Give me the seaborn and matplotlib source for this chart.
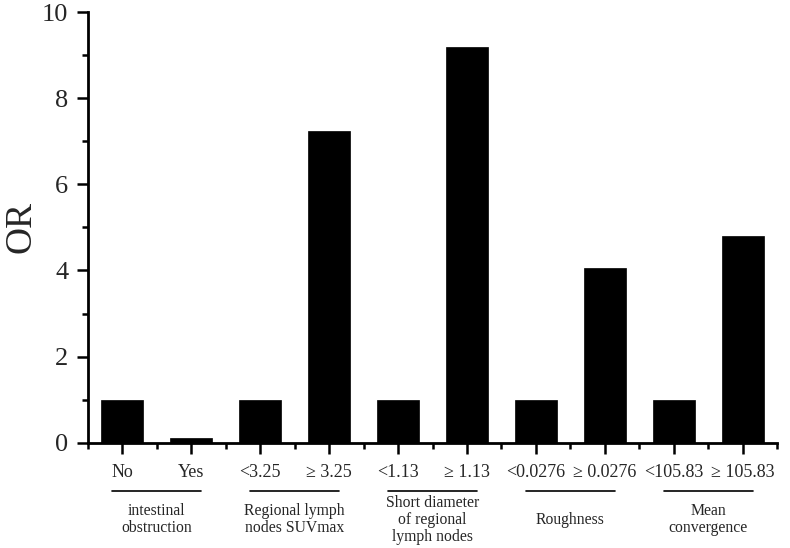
"""Odds ratios by variable group, black bar chart."""

import matplotlib.pyplot as plt
import numpy as np
import pandas as pd
import seaborn as sns

categories = ["No", "Yes", "<3.25", "\u2265 3.25", "<1.13", "\u2265 1.13",
              "<0.0276", "\u2265 0.0276", "<105.83", "\u2265 105.83"]
odds_ratios = [1.0, 0.12, 1.0, 7.25, 1.0, 9.18, 1.0, 4.05, 1.0, 4.81]
groups = ["intestinal\nobstruction", "Regional lymph\nnodes SUVmax",
          "Short diameter\nof regional\nlymph nodes", "Roughness",
          "Mean\nconvergence"]

SERIF = ["Liberation Serif", "DejaVu Serif"]


def main():
    sns.set_style("ticks")
    plt.rcParams["font.family"] = SERIF

    df = pd.DataFrame({"category": categories, "OR": odds_ratios})

    fig = plt.figure(figsize=(7.9, 5.48), dpi=100)
    ax = fig.add_axes([0.111, 0.192, 0.873, 0.786])

    sns.barplot(data=df, x="category", y="OR", order=categories,
                color="black", width=0.6, edgecolor="black", linewidth=0.5,
                saturation=1, ax=ax)

    ax.set_xlim(-0.5, 9.5)
    ax.set_ylim(0, 10)
    ax.set_yticks(np.arange(0, 11, 2))
    ax.set_yticks(np.arange(1, 10, 2), minor=True)
    ax.set_xticks(np.arange(len(categories)))
    ax.set_xticks(np.arange(-0.5, 10, 1), minor=True)
    ax.set_xticklabels(categories, fontsize=13)
    ax.tick_params(axis="y", labelsize=19, pad=6)
    ax.tick_params(which="major", length=8, width=1.8, color="black")
    ax.tick_params(which="minor", length=4.5, width=1.8, color="black")
    ax.tick_params(axis="x", which="major", pad=7)

    for side in ["top", "right"]:
        ax.spines[side].set_visible(False)
    for side in ["left", "bottom"]:
        ax.spines[side].set_linewidth(2)
        ax.spines[side].set_color("black")

    ax.set_xlabel("")
    ax.set_ylabel("OR", fontsize=27)
    ax.yaxis.set_label_coords(-0.072, 0.5)

    # group labels under each pair of bars
    trans = ax.get_xaxis_transform()
    for i, name in enumerate(groups):
        center = 2 * i + 0.5
        ax.plot([center - 0.65, center + 0.65], [-0.113, -0.113], color="black",
                linewidth=1.2, transform=trans, clip_on=False)
        ax.text(center, -0.179, name, transform=trans, ha="center", va="center",
                fontsize=11.3, linespacing=1.1)

    fig.savefig("out.png", dpi=100)
    plt.close(fig)


if __name__ == "__main__":
    main()
